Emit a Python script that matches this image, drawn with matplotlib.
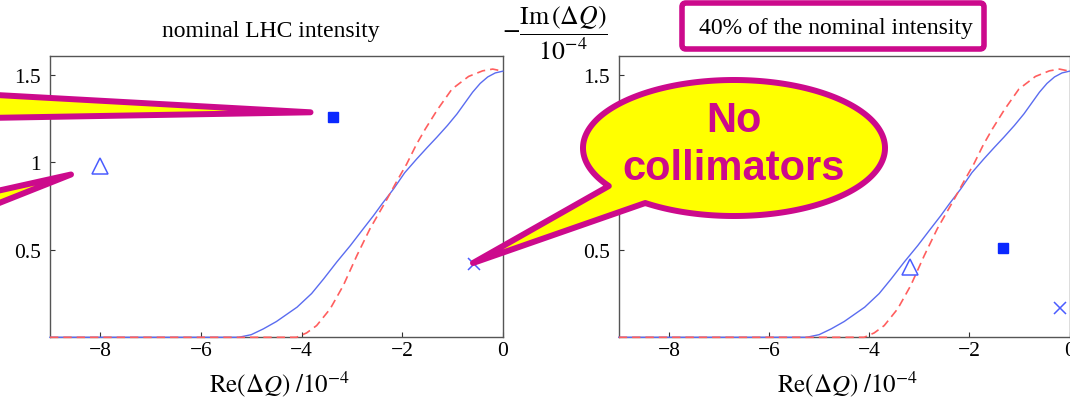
import numpy as np
import matplotlib
matplotlib.use("Agg")
import matplotlib.pyplot as plt
from matplotlib.patches import Polygon, FancyBboxPatch

# ---------------- data ----------------
re_blue = [-9.0, -5.25, -5.0, -4.76, -4.5, -4.09, -3.8, -3.56, -3.3, -3.03, -2.8,
           -2.57, -2.4, -2.17, -1.95, -1.71, -1.5, -1.31, -1.1, -0.91, -0.75,
           -0.6, -0.45, -0.3, -0.15, 0.0]
im_blue = [0.0, 0.0, 0.015, 0.048, 0.09, 0.172, 0.25, 0.334, 0.43, 0.524, 0.61,
           0.695, 0.762, 0.848, 0.94, 1.019, 1.085, 1.143, 1.21, 1.276, 1.34,
           1.40, 1.45, 1.487, 1.51, 1.52]

re_red = [-9.0, -4.1, -3.9, -3.7, -3.43, -3.17, -2.9, -2.64, -2.3, -2.1, -1.91,
          -1.72, -1.54, -1.3, -1.01, -0.68, -0.4, -0.2, 0.0]
im_red = [0.0, 0.0, 0.025, 0.067, 0.163, 0.296, 0.467, 0.62, 0.79, 0.895, 0.99,
          1.10, 1.19, 1.30, 1.418, 1.49, 1.522, 1.532, 1.52]

panel_titles = ["nominal LHC intensity", "40% of the nominal intensity"]
square_re = [-3.37, -1.32]
square_im = [1.26, 0.51]
triangle_re = [-8.0, -3.19]
triangle_im = [0.98, 0.40]
cross_re = [-0.57, -0.19]
cross_im = [0.42, 0.17]

xticks = [-8, -6, -4, -2, 0]
xticklabels = ["\u22128", "\u22126", "\u22124", "\u22122", "0"]
yticks = [0.5, 1.0, 1.5]
yticklabels = ["0.5", "1", "1.5"]

xlabel = r"$\mathrm{Re}(\Delta Q)\ /10^{-4}$"
ylabel = r"$-\dfrac{\mathrm{Im}\,(\Delta Q)}{10^{-4}}$"
bubble_text = ["No", "collimators"]

# ---------------- style ----------------
plt.rcParams["font.family"] = ["Liberation Serif", "DejaVu Serif"]
plt.rcParams["mathtext.fontset"] = "stix"

W, H = 1070, 402
fig = plt.figure(figsize=(W / 100, H / 100), dpi=100)


def fx(px):
    return px / W


def fy(py):
    return 1 - py / H


MAG = "#CC0A8C"
YEL = "#FFFF00"
BLUE_LINE = "#5A6CF0"
RED_LINE = "#FF5E5E"

ax_rects = [(50, 57.3, 502.8, 338.3), (618.8, 57.3, 1069.5, 338.3)]
axes = []
for (l, t, r, b) in ax_rects:
    ax = fig.add_axes([fx(l), fy(b), (r - l) / W, (b - t) / H])
    axes.append(ax)

for i, ax in enumerate(axes):
    ax.set_xlim(-9, 0)
    ax.set_ylim(0, 1.605)
    ax.plot(re_blue, im_blue, color=BLUE_LINE, lw=1.0, clip_on=False, zorder=4)
    ax.plot(re_red, im_red, color=RED_LINE, lw=1.2, ls=(0, (5, 3)),
            clip_on=False, zorder=5)
    ax.plot([square_re[i]], [square_im[i]], marker="s", ms=7, color="#0A28FF",
            ls="none", zorder=6)
    ax.plot([triangle_re[i]], [triangle_im[i]], marker="^", ms=11.5, mfc="none",
            mec="#4A5CFF", mew=1.1, ls="none", zorder=6)
    ax.plot([cross_re[i]], [cross_im[i]], marker="x", ms=9, mec="#4A5CFF",
            mew=1.1, ls="none", zorder=6)
    ax.set_xticks(xticks)
    ax.set_xticklabels(xticklabels)
    ax.set_yticks(yticks)
    ax.set_yticklabels(yticklabels)
    ax.tick_params(direction="in", length=3.5, width=0.8, color="#333333",
                   labelsize=15.5, top=False, right=False)
    ax.tick_params(axis="x", pad=3)
    ax.tick_params(axis="y", pad=6.5)
    for s in ax.spines.values():
        s.set_color("#555555")
        s.set_linewidth(1.0)

# titles
fig.text(fx(270.5), fy(37.5), panel_titles[0], ha="center", va="baseline",
         fontsize=17)
fig.text(fx(835.6), fy(34), panel_titles[1], ha="center", va="baseline",
         fontsize=17, zorder=3)
box = FancyBboxPatch((fx(682), fy(50)), 302 / W, 46 / H,
                     boxstyle="round,pad=0,rounding_size=%g" % (4 / W),
                     mutation_aspect=W / H, transform=fig.transFigure,
                     fc="white", ec=MAG, lw=4, zorder=2)
fig.add_artist(box)

# x labels
fig.text(fx(280), fy(392), xlabel, ha="center", va="baseline", fontsize=18)
fig.text(fx(848), fy(392), xlabel, ha="center", va="baseline", fontsize=18)

# central y label
fig.text(fx(555), fy(33.5), ylabel, ha="center", va="center", fontsize=18.5)


# ---------------- callouts ----------------
def px_poly(pts, **kw):
    arr = np.array([[fx(x), fy(y)] for x, y in pts])
    p = Polygon(arr, closed=True, transform=fig.transFigure, **kw)
    fig.add_artist(p)
    return p


callout_kw = dict(fc=YEL, ec=MAG, lw=4.3, joinstyle="round", zorder=10)

# wedge to the square (left panel)
px_poly([(-60, 92.9), (310.5, 113.3), (-60, 119.8)], **callout_kw)
# wedge to the triangle (left panel)
px_poly([(-60, 204.7), (71, 175.5), (-60, 227.5)], **callout_kw)

# speech bubble pointing to the cross
cx, cy, a, b = 734, 149, 151, 68
ts = np.linspace(np.deg2rad(146), np.deg2rad(126 + 360), 400)
pts = [(cx + a * np.cos(t), cy + b * np.sin(t)) for t in ts]
pts.append((473, 264))
px_poly(pts, **callout_kw)

fig.text(fx(734), fy(131.7), bubble_text[0], ha="center", va="baseline",
         fontsize=30, fontweight="bold", color=MAG,
         family=["Liberation Sans", "DejaVu Sans"], zorder=11)
fig.text(fx(734), fy(180), bubble_text[1], ha="center", va="baseline",
         fontsize=30, fontweight="bold", color=MAG,
         family=["Liberation Sans", "DejaVu Sans"], zorder=11)

fig.savefig("out.png", dpi=100)
